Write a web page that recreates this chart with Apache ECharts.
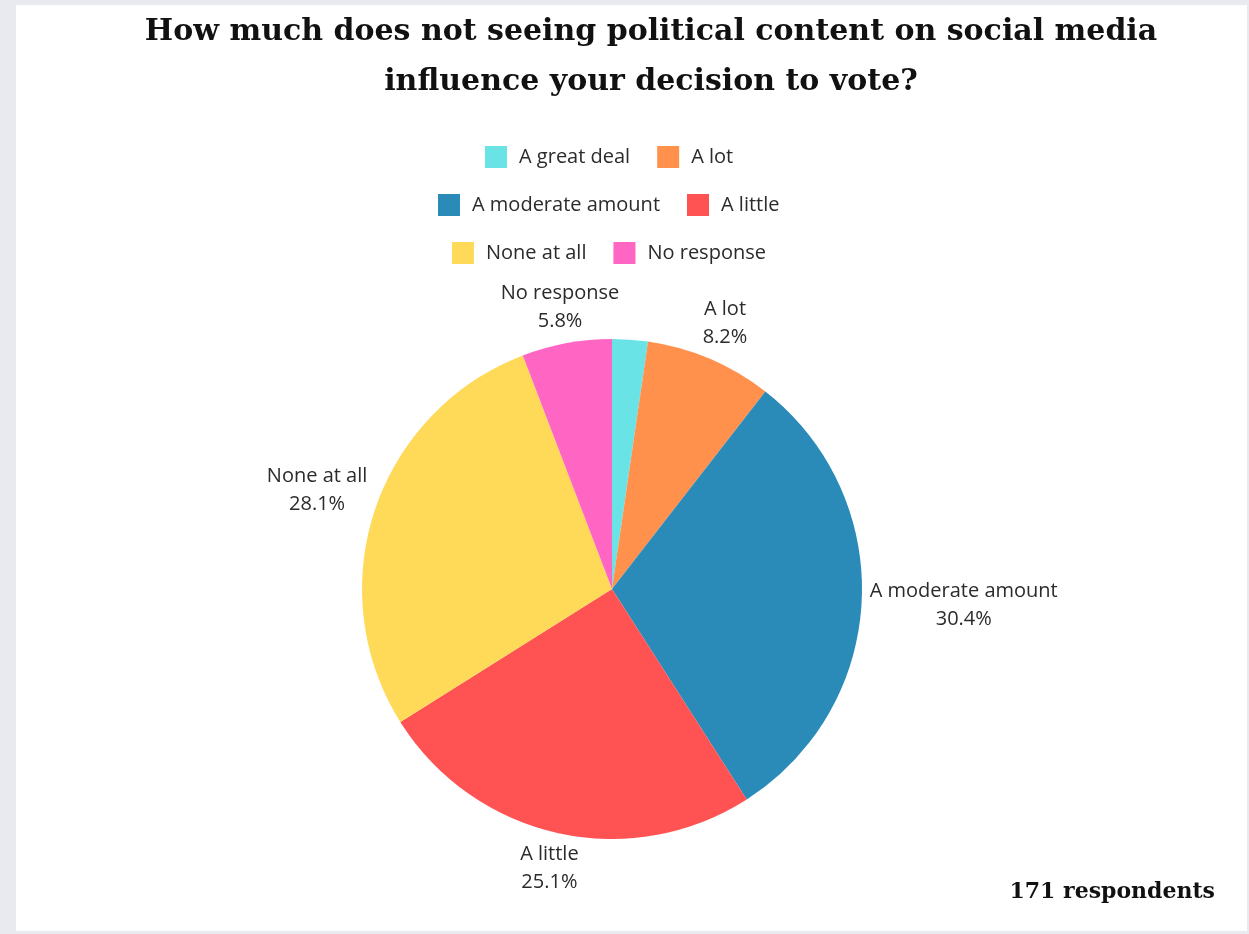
<!DOCTYPE html>
<html>
<head>
<meta charset="utf-8">
<title>Political content and voting</title>
<script src="https://cdn.jsdelivr.net/npm/echarts@6/dist/echarts.min.js"></script>
<style>
  html, body { margin: 0; padding: 0; background: #e8eaf0; }
  #card { position: absolute; left: 16px; top: 5px; width: 1231px; height: 926px; background: #ffffff; }
  #chart { position: absolute; left: 0; top: 0; width: 1249px; height: 934px; }
</style>
</head>
<body>
<div id="card"></div>
<div id="chart"></div>
<script>
// Survey answers (share of 171 respondents, in percent)
const categories = ['A great deal', 'A lot', 'A moderate amount', 'A little', 'None at all', 'No response'];
const shares = [2.3, 8.2, 30.4, 25.1, 28.1, 5.8];
const colors = ['#6ae3e7', '#ff914d', '#2a8ab8', '#ff5353', '#ffda58', '#ff66c4'];
const hiddenLabels = ['A great deal'];
const respondents = 171;

const CX = 612, CY = 589, R = 250, LABEL_GAP = 8;
const LEGEND_CENTER_X = 609;

const total = shares.reduce((a, b) => a + b, 0);
// middle angle of each slice, clockwise from 12 o'clock
const midAngles = [];
let acc = 0;
shares.forEach(v => {
  midAngles.push((acc + v / 2) / total * Math.PI * 2);
  acc += v;
});

const chart = echarts.init(document.getElementById('chart'), null, { renderer: 'canvas' });

const labelFont = '"Open Sans", "Noto Sans", sans-serif';
const LEGEND_FONT_SIZE = 20, ICON = 22, ICON_TEXT_GAP = 12, ITEM_GAP = 27;
const legendText = { fontSize: LEGEND_FONT_SIZE, color: '#2b2b2b', fontFamily: labelFont, padding: [0, 0, 0, ICON_TEXT_GAP - 5] };

// measure a row so it can be centred over the pie rather than the page
const measureCtx = document.createElement('canvas').getContext('2d');
measureCtx.font = LEGEND_FONT_SIZE + 'px ' + labelFont;
function rowWidth(names) {
  return names.reduce((w, n) => w + ICON + ICON_TEXT_GAP + measureCtx.measureText(n).width, 0)
    + ITEM_GAP * (names.length - 1);
}
function legendRow(names, top) {
  return {
    data: names, top: top, left: Math.round(LEGEND_CENTER_X - rowWidth(names) / 2),
    orient: 'horizontal', padding: 0,
    icon: 'rect', itemWidth: ICON, itemHeight: ICON, itemGap: ITEM_GAP,
    textStyle: legendText, selectedMode: false
  };
}

chart.setOption({
  color: colors,
  title: {
    text: 'How much does not seeing political content on social media\ninfluence your decision to vote?',
    left: 646, top: 2, textAlign: 'center',
    textStyle: { fontFamily: '"DejaVu Serif", serif', fontWeight: 'bold', fontSize: 30, lineHeight: 50, color: '#111111' }
  },
  legend: [
    legendRow(categories.slice(0, 2), 146),
    legendRow(categories.slice(2, 4), 194),
    legendRow(categories.slice(4, 6), 242)
  ],
  graphic: [{
    type: 'text', right: 34, top: 881,
    style: { text: respondents + ' respondents', font: 'bold 22px "DejaVu Serif", serif', fill: '#111111' }
  }],
  series: [{
    type: 'pie',
    center: [CX, CY],
    radius: R,
    startAngle: 90,
    clockwise: true,
    avoidLabelOverlap: false,
    itemStyle: { borderWidth: 0 },
    label: {
      show: true, position: 'outside',
      formatter: p => p.name + '\n' + p.value + '%',
      fontFamily: labelFont, fontSize: 20, lineHeight: 28, color: '#2b2b2b', align: 'center'
    },
    labelLine: { show: false },
    emphasis: { disabled: true },
    // centre each label on the slice's mid-angle ray, just outside the rim
    labelLayout: function (params) {
      const a = midAngles[params.dataIndex];
      const dx = Math.sin(a), dy = -Math.cos(a);
      const hw = params.labelRect.width / 2, hh = params.labelRect.height / 2;
      const exit = Math.min(Math.abs(dx) > 1e-6 ? hw / Math.abs(dx) : Infinity,
                            Math.abs(dy) > 1e-6 ? hh / Math.abs(dy) : Infinity);
      const d = R + LABEL_GAP + exit;
      return { x: CX + dx * d, y: CY + dy * d, align: 'center', verticalAlign: 'middle' };
    },
    data: categories.map((name, i) => ({
      name: name,
      value: shares[i],
      label: { show: hiddenLabels.indexOf(name) < 0 }
    }))
  }]
});
</script>
</body>
</html>
